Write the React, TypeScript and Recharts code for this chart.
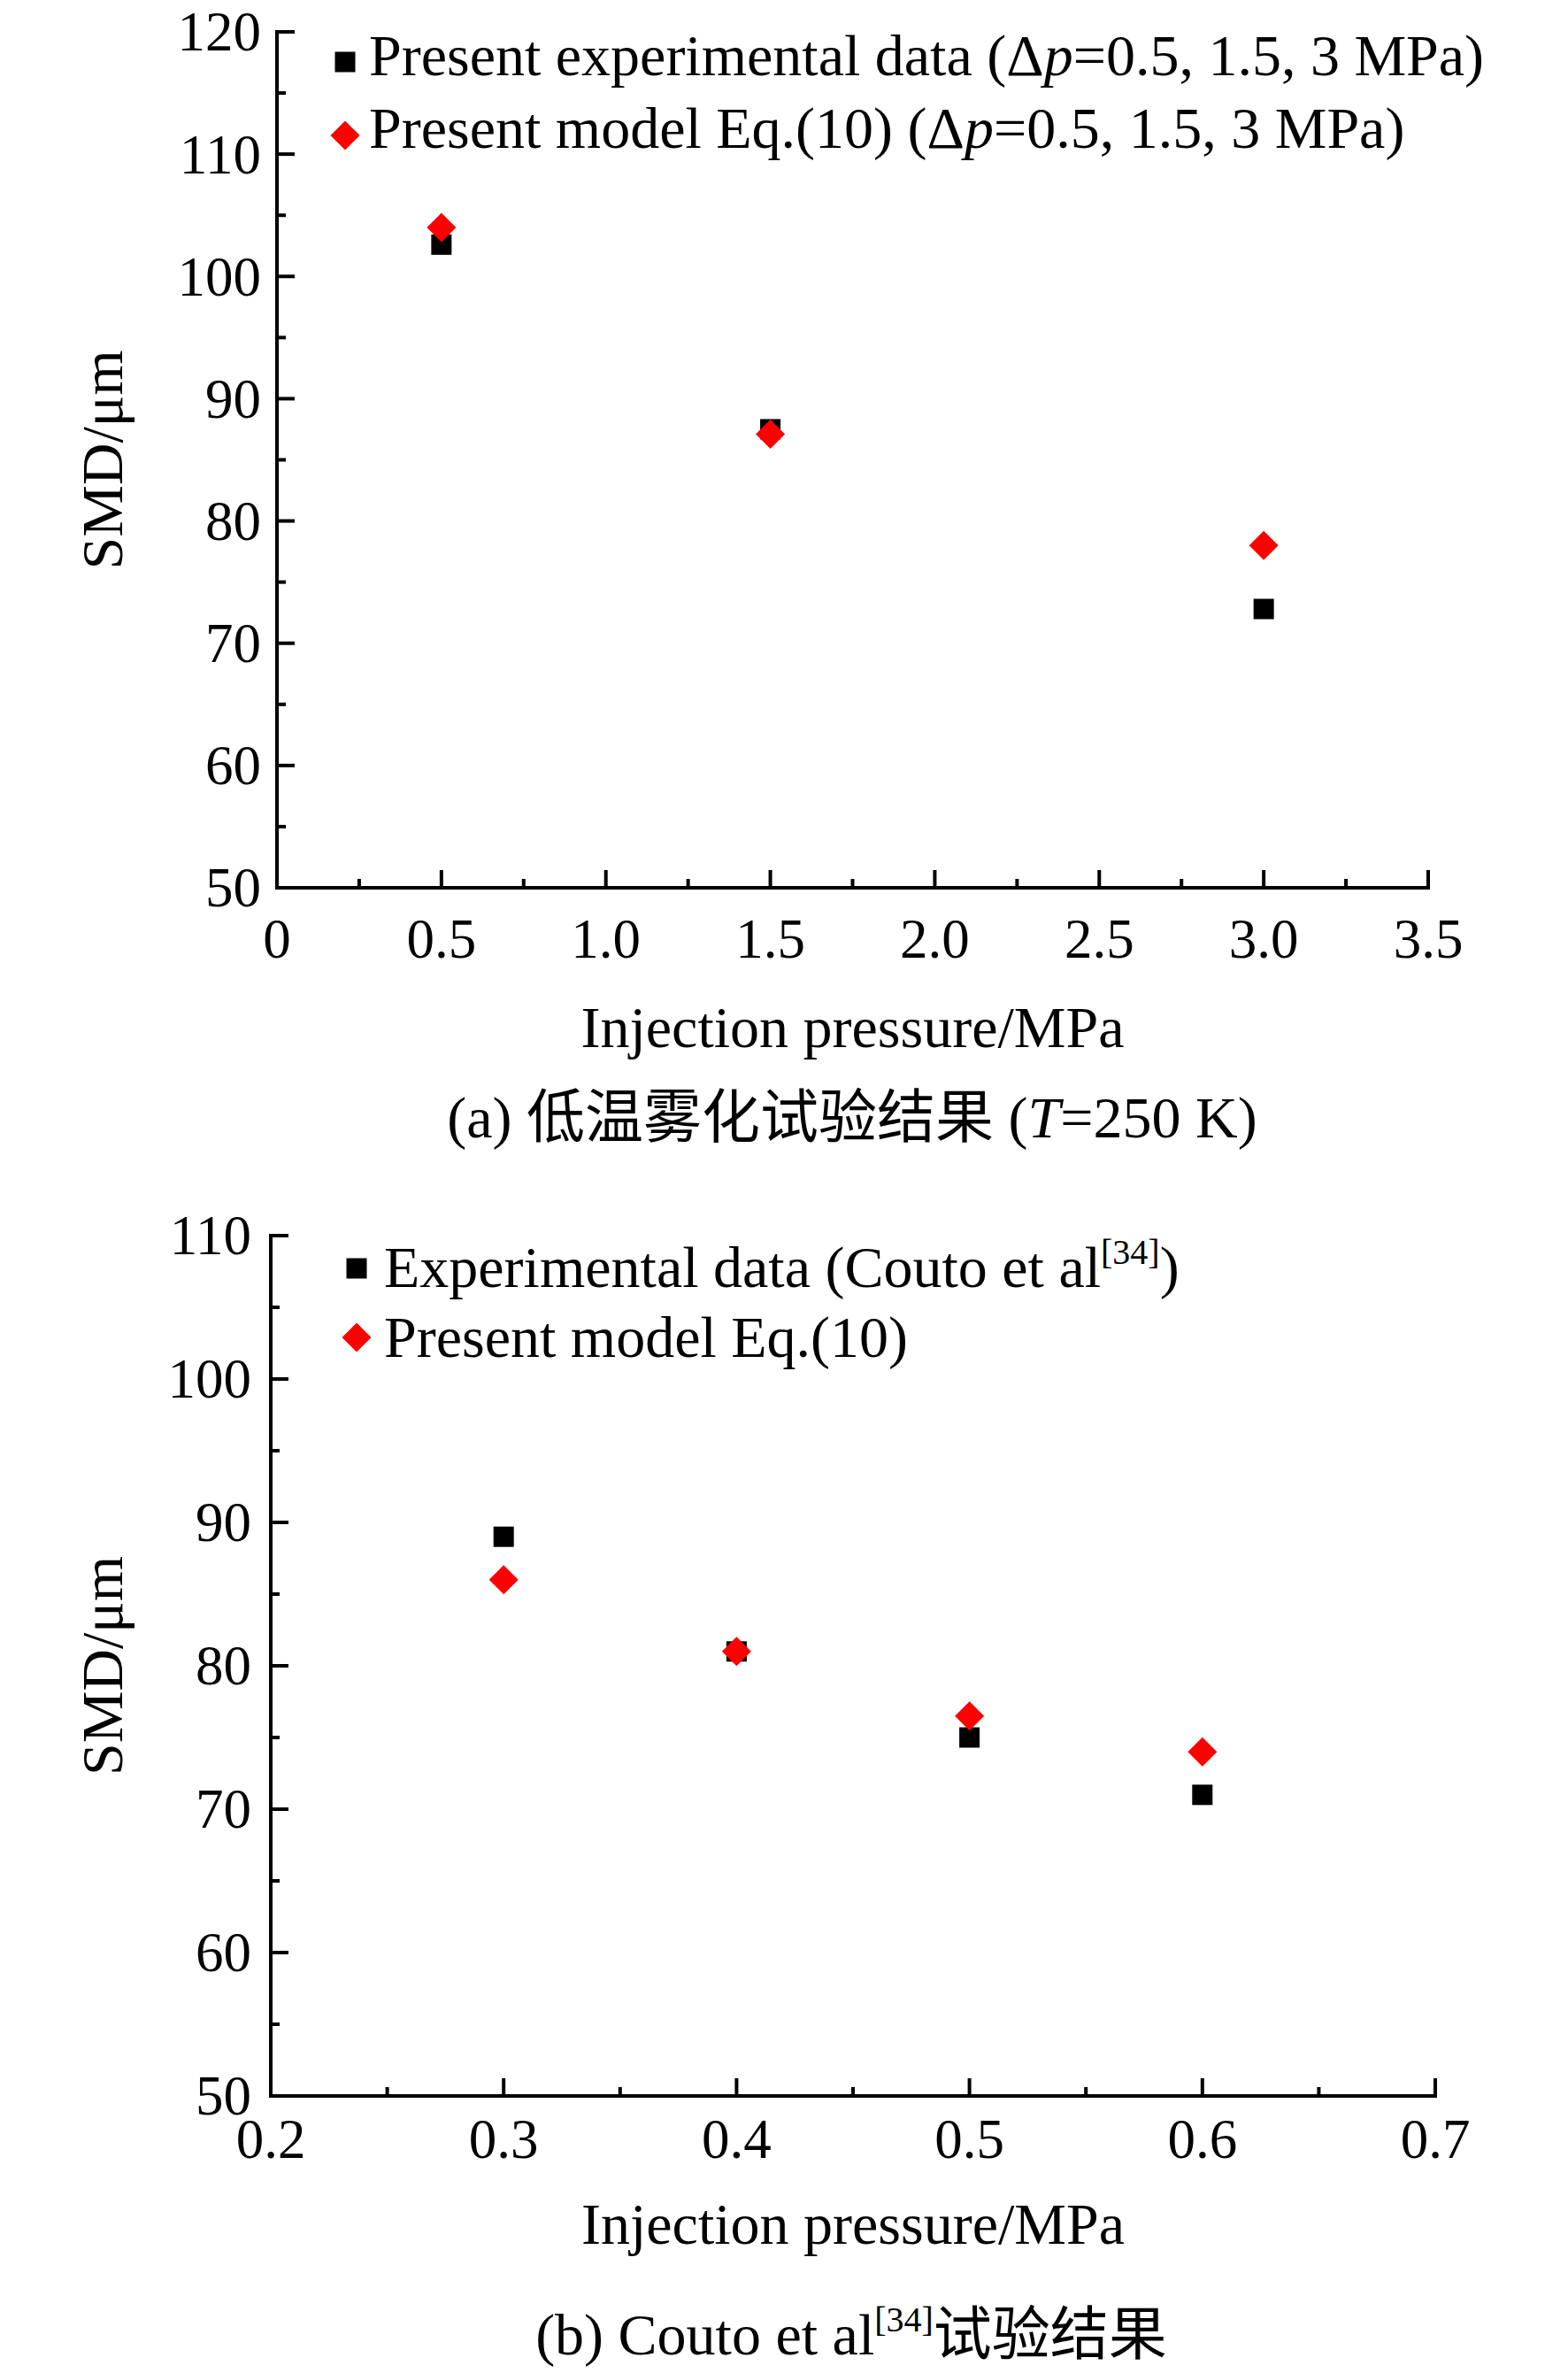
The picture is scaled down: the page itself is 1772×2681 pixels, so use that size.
import React from 'react';
import { ScatterChart, Scatter, XAxis, YAxis, Legend } from 'recharts';

// (a) low-temperature atomization test, T = 250 K
const pressureA = [0.5, 1.5, 3.0];
const expA = [102.6, 87.5, 72.8];
const modelA = [104.0, 87.1, 78.0];

// (b) Couto et al. data
const pressureB = [0.3, 0.4, 0.5, 0.6];
const expB = [89.0, 81.0, 75.0, 71.0];
const modelB = [86.0, 81.0, 76.5, 74.0];

const xMajorA = [0, 0.5, 1.0, 1.5, 2.0, 2.5, 3.0, 3.5];
const xMinorA = [0.25, 0.75, 1.25, 1.75, 2.25, 2.75, 3.25];
const yMajorA = [50, 60, 70, 80, 90, 100, 110, 120];
const yMinorA = [55, 65, 75, 85, 95, 105, 115];

const xMajorB = [0.2, 0.3, 0.4, 0.5, 0.6, 0.7];
const xMinorB = [0.25, 0.35, 0.45, 0.55, 0.65];
const yMajorB = [50, 60, 70, 80, 90, 100, 110];
const yMinorB = [55, 65, 75, 85, 95, 105];

const SERIF = '"Liberation Serif", "Times New Roman", serif';
const CJK = '"Liberation Serif", "Noto Sans CJK SC", serif';
const FS = 66; // legend, titles, captions
const TICK_FS = 63;
const RED = '#ff0000';

const toPoints = (xs: number[], ys: number[]) => xs.map((x, i) => ({ x, y: ys[i] }));
const fmtA = (v: number) => (v === 0 ? '0' : v.toFixed(1));
const fmtB = (v: number) => v.toFixed(1);
const merge = (a: number[], b: number[]) => [...a, ...b].sort((m, n) => m - n);

function XTick(props: any) {
  const { x, y, payload, majors, fmt, labelDy } = props;
  const major = majors.includes(payload.value);
  return (
    <g>
      <line x1={x} y1={y} x2={x} y2={y - (major ? 20 : 10)} stroke="#000" strokeWidth={4} />
      {major && (
        <text x={x} y={y + labelDy} textAnchor="middle" fontSize={TICK_FS} fontFamily={SERIF} fill="#000">
          {fmt(payload.value)}
        </text>
      )}
    </g>
  );
}

function YTick(props: any) {
  const { x, y, payload, majors, gap } = props;
  const major = majors.includes(payload.value);
  return (
    <g>
      <line x1={x} y1={y} x2={x + (major ? 20 : 10)} y2={y} stroke="#000" strokeWidth={4} />
      {major && (
        <text x={x - gap} y={y} dy="0.34em" textAnchor="end" fontSize={TICK_FS} fontFamily={SERIF} fill="#000">
          {payload.value}
        </text>
      )}
    </g>
  );
}

function XTitle(props: any) {
  const { viewBox, below, shift } = props;
  const { x, y, width } = viewBox;
  return (
    <text x={x + width / 2 + shift} y={y + below} textAnchor="middle" fontSize={FS} fontFamily={SERIF} fill="#000">
      Injection pressure/MPa
    </text>
  );
}

function YTitle(props: any) {
  const { viewBox, left } = props;
  const { x, y, width, height } = viewBox;
  const cx = x + width - left;
  const cy = y + height / 2;
  return (
    <text
      x={cx}
      y={cy}
      dy="0.33em"
      transform={`rotate(-90, ${cx}, ${cy})`}
      textAnchor="middle"
      fontSize={FS}
      fontFamily={SERIF}
      fill="#000"
    >
      SMD/μm
    </text>
  );
}

const square = (props: any) => {
  const { cx, cy } = props;
  return <rect x={cx - 11.5} y={cy - 11.5} width={23} height={23} fill="#000" />;
};

const diamond = (props: any) => {
  const { cx, cy } = props;
  const r = 16.5;
  return <path d={`M${cx},${cy - r}L${cx + r},${cy}L${cx},${cy + r}L${cx - r},${cy}Z`} fill={RED} />;
};

function Marker({ kind }: { kind: string }) {
  return kind === 'square' ? (
    <svg width={34} height={34} style={{ position: 'absolute', left: -17, top: -17 }}>
      <rect x={5.5} y={5.5} width={23} height={23} fill="#000" />
    </svg>
  ) : (
    <svg width={34} height={34} style={{ position: 'absolute', left: -17, top: -17 }}>
      <path d="M17,0.5L33.5,17L17,33.5L0.5,17Z" fill={RED} />
    </svg>
  );
}

type Row = { kind: string; label: React.ReactNode; mx: number; my: number; tx: number; base: number };

// height 0 so the legend takes no room from the plot area
function LegendBox({ rows }: { rows: Row[] }) {
  return (
    <div style={{ position: 'relative', width: 1772, height: 0, overflow: 'visible' }}>
      {rows.map((r, i) => (
        <React.Fragment key={i}>
          <div style={{ position: 'absolute', left: r.mx, top: r.my }}>
            <Marker kind={r.kind} />
          </div>
          <div
            style={{
              position: 'absolute',
              left: r.tx,
              top: r.base - 0.8375 * FS,
              fontFamily: SERIF,
              fontSize: FS,
              lineHeight: `${FS}px`,
              whiteSpace: 'nowrap',
              color: '#000',
            }}
          >
            {r.label}
          </div>
        </React.Fragment>
      ))}
    </div>
  );
}

const sup = (t: string) => (
  <span style={{ fontSize: 40, position: 'relative', top: -26, lineHeight: 0 }}>{t}</span>
);

const legendA: Row[] = [
  {
    kind: 'square',
    label: (
      <>
        Present experimental data (Δ<i>p</i>=0.5, 1.5, 3 MPa)
      </>
    ),
    mx: 390,
    my: 70,
    tx: 417,
    base: 85,
  },
  {
    kind: 'diamond',
    label: (
      <>
        Present model Eq.(10) (Δ<i>p</i>=0.5, 1.5, 3 MPa)
      </>
    ),
    mx: 390,
    my: 153,
    tx: 417,
    base: 167,
  },
];

const legendB: Row[] = [
  {
    kind: 'square',
    label: (
      <>
        Experimental data (Couto et al{sup('[34]')})
      </>
    ),
    mx: 403,
    my: 93,
    tx: 434,
    base: 114,
  },
  {
    kind: 'diamond',
    label: <>Present model Eq.(10)</>,
    mx: 403,
    my: 171,
    tx: 434,
    base: 193,
  },
];

const axisLine = { stroke: '#000', strokeWidth: 4, strokeLinecap: 'square' as const };

export default function App() {
  return (
    <div style={{ position: 'absolute', left: 0, top: 0, width: 1772, height: 2681, background: '#fff', overflow: 'hidden' }}>
      <div style={{ position: 'absolute', left: 0, top: 0 }}>
        <ScatterChart width={1772} height={1340} margin={{ top: 36, right: 158, bottom: 0, left: 0 }}>
          <XAxis
            type="number"
            dataKey="x"
            domain={[0, 3.5]}
            ticks={merge(xMajorA, xMinorA)}
            interval={0}
            height={337}
            tickSize={0}
            tickMargin={0}
            tickLine={false}
            axisLine={axisLine}
            tick={(p: any) => <XTick {...p} majors={xMajorA} fmt={fmtA} labelDy={79} />}
            label={<XTitle below={180} shift={0} />}
          />
          <YAxis
            type="number"
            dataKey="y"
            domain={[50, 120]}
            ticks={merge(yMajorA, yMinorA)}
            interval={0}
            width={313}
            tickSize={0}
            tickMargin={0}
            tickLine={false}
            axisLine={axisLine}
            tick={(p: any) => <YTick {...p} majors={yMajorA} gap={18} />}
            label={<YTitle left={197} />}
          />
          <Legend
            content={() => <LegendBox rows={legendA} />}
            wrapperStyle={{ position: 'absolute', left: 0, top: 0, width: 1772, height: 0, margin: 0 }}
          />
          <Scatter name="Present experimental data" data={toPoints(pressureA, expA)} fill="#000" shape={square} isAnimationActive={false} />
          <Scatter name="Present model Eq.(10)" data={toPoints(pressureA, modelA)} fill={RED} shape={diamond} isAnimationActive={false} />
        </ScatterChart>
      </div>

      <div style={{ position: 'absolute', left: 0, top: 1340 }}>
        <ScatterChart width={1772} height={1341} margin={{ top: 56, right: 150, bottom: 0, left: 0 }}>
          <XAxis
            type="number"
            dataKey="x"
            domain={[0.2, 0.7]}
            ticks={merge(xMajorB, xMinorB)}
            interval={0}
            height={313}
            tickSize={0}
            tickMargin={0}
            tickLine={false}
            axisLine={axisLine}
            tick={(p: any) => <XTick {...p} majors={xMajorB} fmt={fmtB} labelDy={70} />}
            label={<XTitle below={167} shift={0} />}
          />
          <YAxis
            type="number"
            dataKey="y"
            domain={[50, 110]}
            ticks={merge(yMajorB, yMinorB)}
            interval={0}
            width={306}
            tickSize={0}
            tickMargin={0}
            tickLine={false}
            axisLine={axisLine}
            tick={(p: any) => <YTick {...p} majors={yMajorB} gap={22} />}
            label={<YTitle left={190} />}
          />
          <Legend
            content={() => <LegendBox rows={legendB} />}
            wrapperStyle={{ position: 'absolute', left: 0, top: 0, width: 1772, height: 0, margin: 0 }}
          />
          <Scatter name="Experimental data" data={toPoints(pressureB, expB)} fill="#000" shape={square} isAnimationActive={false} />
          <Scatter name="Present model Eq.(10)" data={toPoints(pressureB, modelB)} fill={RED} shape={diamond} isAnimationActive={false} />
        </ScatterChart>
      </div>

      <svg width={1772} height={2681} style={{ position: 'absolute', left: 0, top: 0, pointerEvents: 'none' }}>
        <text x={963} y={1285} textAnchor="middle" fontSize={FS} fontFamily={CJK} fill="#000">
          (a) 低温雾化试验结果 (<tspan fontStyle="italic">T</tspan>=250 K)
        </text>
        <text x={962} y={2660} textAnchor="middle" fontSize={FS} fontFamily={CJK} fill="#000">
          (b) Couto et al
          <tspan fontSize={40} dy={-26}>[34]</tspan>
          <tspan dy={26}>试验结果</tspan>
        </text>
      </svg>
    </div>
  );
}
